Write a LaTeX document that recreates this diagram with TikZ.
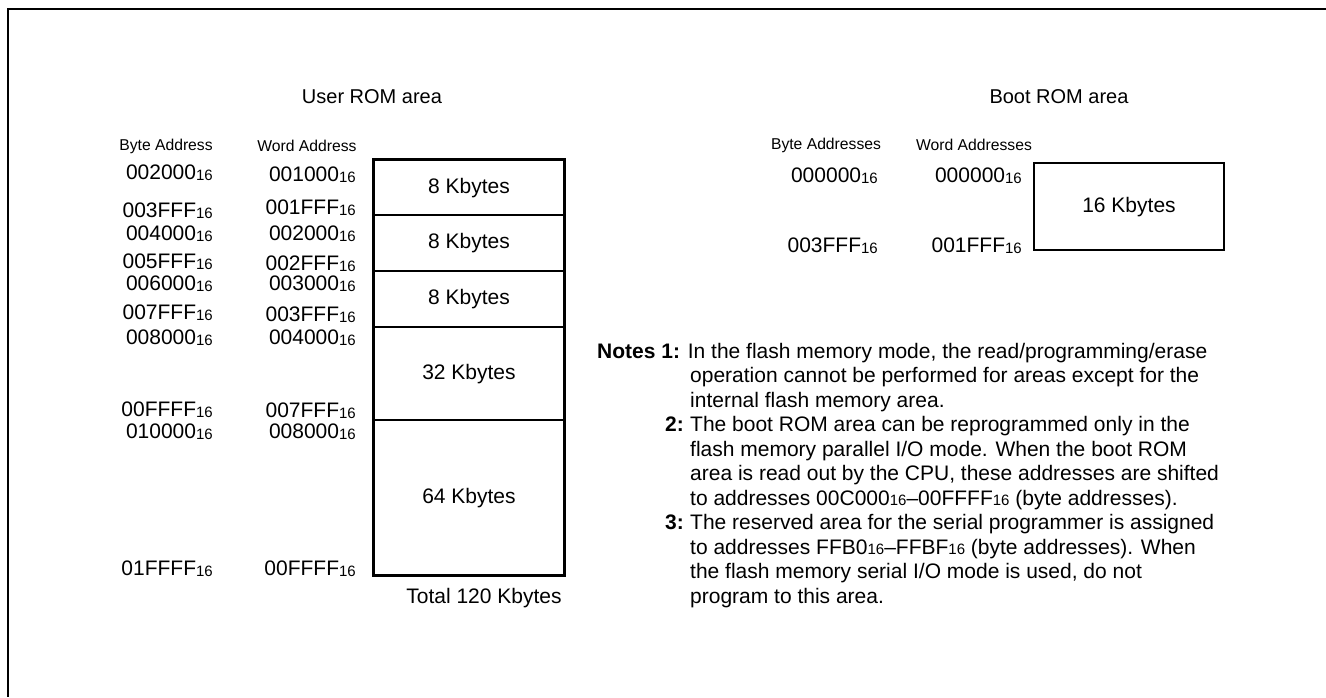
\documentclass[tikz,border=0pt]{standalone}
\usepackage{fontspec}
\setmainfont{Liberation Sans}
\newcommand\fsz[1]{\fontsize{#1}{#1}\selectfont}
\newcommand\hexa[1]{{\fsz{21}#1}\raisebox{-0.5pt}{\fsz{15}16}}
\newcommand\nsub{\raisebox{-0.5pt}{\fsz{15}16}}
\tikzset{
  title/.style={font=\fsz{20}, inner sep=0pt},
  collabel/.style={font=\fsz{15.7}, inner sep=0pt},
  addr/.style={anchor=base east, inner sep=0pt},
  seg/.style={draw, line width=1.6pt, minimum width=190pt, inner sep=0pt, font=\fsz{21}, text height=15pt, text depth=4pt},
  note/.style={anchor=base west, inner sep=0pt, font=\fsz{21}},
  frameline/.style={line width=2.6pt}
}
\begin{document}
\begin{tikzpicture}[x=1pt,y=-1pt]
\useasboundingbox (0,0) rectangle (1326,697);
% frame
\coordinate (fA) at (1326,9);
\coordinate (fB) at (8,9);
\coordinate (fC) at (8,697);
\draw[frameline] (fA) -- (fB) -- (fC);

% titles
\node[title] (tuser) at (372,97) {User ROM area};
\node[title] (tboot) at (1059,97) {Boot ROM area};

% user column labels
\node[collabel] (lbyte) at (166,146) {Byte Address};
\node[collabel] (lword) at (307,146) {Word Address};

% byte addresses
\node[addr] (b1) at (213,179.5) {\hexa{002000}};
\node[addr] (b2) at (213,217.5) {\hexa{003FFF}};
\node[addr] (b3) at (213,240.5) {\hexa{004000}};
\node[addr] (b4) at (213,268.5) {\hexa{005FFF}};
\node[addr] (b5) at (213,290.5) {\hexa{006000}};
\node[addr] (b6) at (213,319.5) {\hexa{007FFF}};
\node[addr] (b7) at (213,344.5) {\hexa{008000}};
\node[addr] (b8) at (213,416.5) {\hexa{00FFFF}};
\node[addr] (b9) at (213,438.5) {\hexa{010000}};
\node[addr] (b10) at (213,575.5) {\hexa{01FFFF}};

% word addresses
\node[addr] (w1) at (356,181.5) {\hexa{001000}};
\node[addr] (w2) at (356,214.5) {\hexa{001FFF}};
\node[addr] (w3) at (356,240.5) {\hexa{002000}};
\node[addr] (w4) at (356,270.5) {\hexa{002FFF}};
\node[addr] (w5) at (356,290.5) {\hexa{003000}};
\node[addr] (w6) at (356,321.5) {\hexa{003FFF}};
\node[addr] (w7) at (356,344.5) {\hexa{004000}};
\node[addr] (w8) at (356,417.5) {\hexa{007FFF}};
\node[addr] (w9) at (356,438.5) {\hexa{008000}};
\node[addr] (w10) at (356,575.5) {\hexa{00FFFF}};

% user ROM blocks
\node[seg, minimum height=55pt] (s1) at (469,187.5) {8 Kbytes};
\node[seg, minimum height=56pt] (s2) at (469,243) {8 Kbytes};
\node[seg, minimum height=56pt] (s3) at (469,299) {8 Kbytes};
\node[seg, minimum height=93pt] (s4) at (469,373.5) {32 Kbytes};
\node[seg, minimum height=155pt] (s5) at (469,497.5) {64 Kbytes};
\draw[line width=2.6pt] (s1.north west) rectangle (s5.south east);
\node[title, font=\fsz{21}] (total) at (484,598) {Total 120 Kbytes};

% boot ROM
\node[collabel] (lbytes) at (826,145) {Byte Addresses};
\node[collabel] (lwords) at (974,145) {Word Addresses};
\node[addr] (bb1) at (878,182.5) {\hexa{000000}};
\node[addr] (bb2) at (878,252.5) {\hexa{003FFF}};
\node[addr] (bw1) at (1022,182.5) {\hexa{000000}};
\node[addr] (bw2) at (1022,252.5) {\hexa{001FFF}};
\node[seg, line width=2.6pt, minimum width=190pt, minimum height=87pt] (boot) at (1129,206.5) {16 Kbytes};

% notes
\node[note] (n1) at (597,358) {\textbf{Notes 1:} In the flash memory mode, the read/programming/erase};
\node[note] (n2) at (690,382.5) {operation cannot be performed for areas except for the};
\node[note] (n3) at (690,407) {internal flash memory area.};
\node[note, anchor=base east] (n4a) at (684,431.5) {\textbf{2:}};
\node[note] (n4) at (690,431.5) {The boot ROM area can be reprogrammed only in the};
\node[note] (n5) at (690,456) {flash memory parallel I/O mode. When the boot ROM};
\node[note] (n6) at (690,480.5) {area is read out by the CPU, these addresses are shifted};
\node[note] (n7) at (690,505) {to addresses 00C000\nsub–00FFFF\nsub\ (byte addresses).};
\node[note, anchor=base east] (n8a) at (684,529.5) {\textbf{3:}};
\node[note] (n8) at (690,529.5) {The reserved area for the serial programmer is assigned};
\node[note] (n9) at (690,554) {to addresses FFB0\nsub–FFBF\nsub\ (byte addresses). When};
\node[note] (n10) at (690,578.5) {the flash memory serial I/O mode is used, do not};
\node[note] (n11) at (690,603) {program to this area.};
\end{tikzpicture}
\end{document}
